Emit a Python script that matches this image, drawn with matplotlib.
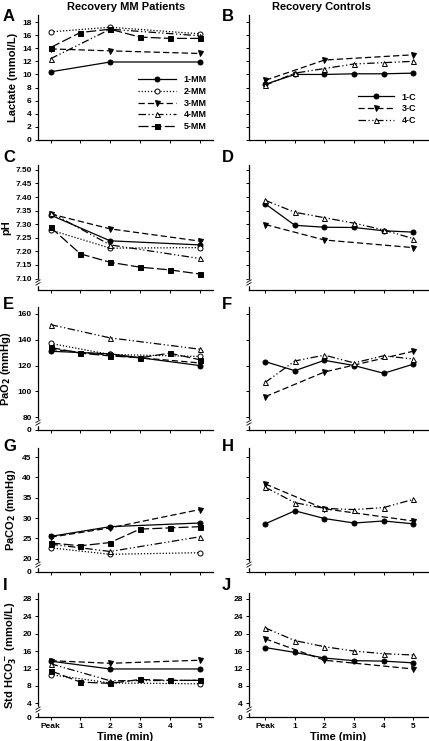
import numpy as np
import matplotlib
matplotlib.use("Agg")
import matplotlib.pyplot as plt

plt.rcParams['font.family'] = ['Liberation Sans', 'DejaVu Sans']
plt.rcParams['font.weight'] = 'bold'
plt.rcParams['axes.labelweight'] = 'bold'

# -----------------------------
# data
# -----------------------------
time_labels = ["Peak", "1", "2", "3", "4", "5"]
t_all = [0, 1, 2, 3, 4, 5]
t_sparse = [0, 2, 5]

# Lactate (mmol/L)
lac_1mm = [10.4, 11.9, 11.9]
lac_2mm = [16.5, 17.2, 16.2]
lac_3mm = [13.9, 13.6, 13.2]
lac_4mm = [12.4, 16.9, 15.9]
lac_5mm = [14.1, 16.4, 16.9, 15.7, 15.5, 15.5]
lac_1c = [8.5, 10.0, 10.0, 10.1, 10.1, 10.2]
lac_3c = [9.1, 12.2, 13.0]
lac_4c = [8.35, 10.2, 10.9, 11.6, 11.8, 12.0]

# pH
ph_1mm = [7.334, 7.239, 7.224]
ph_2mm = [7.279, 7.212, 7.214]
ph_3mm = [7.338, 7.283, 7.238]
ph_4mm = [7.343, 7.224, 7.174]
ph_5mm = [7.289, 7.191, 7.160, 7.142, 7.132, 7.117]
ph_1c = [7.375, 7.296, 7.289, 7.288, 7.276, 7.271]
ph_3c = [7.299, 7.242, 7.214]
ph_4c = [7.388, 7.344, 7.324, 7.304, 7.279, 7.247]

# PaO2 (mmHg)
pao2_1mm = [131, 129, 120]
pao2_2mm = [137, 128.5, 127]
pao2_3mm = [132.5, 128, 122]
pao2_4mm = [151.5, 141.3, 132.6]
pao2_5mm = [134, 129.5, 127.4, 126, 129.5, 124.5]
pao2_1c = [123, 116, 124, 120, 114, 121]
pao2_3c = [96, 115, 131]
pao2_4c = [107, 123.5, 128, 122, 127.5, 125]

# PaCO2 (mmHg)
paco2_1mm = [25.5, 27.9, 28.8]
paco2_2mm = [22.7, 21.1, 21.5]
paco2_3mm = [25.3, 27.6, 32.1]
paco2_4mm = [23.6, 21.8, 25.4]
paco2_5mm = [23.9, 23.2, 24.0, 27.3, 27.6, 27.9]
paco2_1c = [28.6, 31.8, 29.9, 28.8, 29.3, 28.6]
paco2_3c = [38.4, 32.3, 29.3]
paco2_4c = [37.6, 33.8, 32.4, 32.1, 32.6, 34.6]

# Std HCO3- (mmol/L)
hco3_1mm = [13.7, 11.9, 11.9]
hco3_2mm = [10.6, 8.7, 8.5]
hco3_3mm = [13.8, 13.2, 13.9]
hco3_4mm = [13.1, 9.2, 9.3]
hco3_5mm = [11.5, 8.9, 8.6, 9.5, 9.3, 9.3]
hco3_1c = [16.8, 15.7, 14.4, 13.8, 13.7, 13.3]
hco3_3c = [18.8, 13.9, 11.9]
hco3_4c = [21.3, 18.4, 17.0, 16.0, 15.4, 15.1]

# -----------------------------
# styles
# -----------------------------
STY = {
    "1": dict(ls="-", marker="o", mfc="black"),
    "2": dict(ls=(0, (1, 1.5)), marker="o", mfc="white"),
    "3": dict(ls=(0, (5, 2.5)), marker="v", mfc="black"),
    "4": dict(ls=(0, (6, 2, 1, 2, 1, 2)), marker="^", mfc="white"),
    "5": dict(ls=(0, (8, 2.5)), marker="s", mfc="black"),
}

W, H = 429, 741
fig = plt.figure(figsize=(W / 100, H / 100), dpi=100)


def px_axes(x0, x1, y0, y1):
    return fig.add_axes([x0 / W, 1 - y1 / H, (x1 - x0) / W, (y1 - y0) / H])


def draw_series(ax, x, y, key, label=None):
    s = STY[key]
    ax.plot(x, y, ls=s["ls"], color="black", lw=0.9, marker=s["marker"],
            ms=3.6, mfc=s["mfc"], mec="black", mew=0.7, label=label,
            clip_on=False)


def add_break(ax, yb):
    ax.plot([0, 0], [yb - 0.012, yb + 0.012], color="white", lw=2.5,
            transform=ax.transAxes, clip_on=False, zorder=5)
    for dy in (-0.011, 0.011):
        ax.plot([-0.012, 0.012], [yb + dy - 0.01, yb + dy + 0.01],
                color="black", lw=0.6, transform=ax.transAxes,
                clip_on=False, zorder=6)


def style_axes(ax, ylim, yticks, ylabels, xlim, show_x=False):
    ax.set_xlim(*xlim)
    ax.set_ylim(*ylim)
    for sp in ("top", "right"):
        ax.spines[sp].set_visible(False)
    for sp in ("left", "bottom"):
        ax.spines[sp].set_linewidth(0.9)
    ax.set_xticks(t_all)
    ax.set_yticks(yticks)
    ax.tick_params(direction="out", length=2.5, width=0.7, labelsize=6, pad=2)
    if ylabels is None:
        ax.set_yticklabels([])
    else:
        ax.set_yticklabels(ylabels)
    if show_x:
        ax.set_xticklabels(time_labels)
        ax.set_xlabel("Time (min)", fontsize=8, labelpad=1)
    else:
        ax.set_xticklabels([])


cols = [(38, 213), (249, 428)]
rows = [(15, 140), (165, 290), (307, 430), (448, 572), (593, 717)]
letter_tops = [9, 150, 297, 439, 578]
xlims = [(-0.42, 5.45), (-0.55, 5.5)]

panels = [
    ("lac", (0, 19.07), list(range(0, 19, 2)), [str(v) for v in range(0, 19, 2)],
     "Lactate (mmol/L)", None),
    ("ph", (7.058, 7.518), [7.10, 7.15, 7.20, 7.25, 7.30, 7.35, 7.40, 7.45, 7.50],
     ["7.10", "7.15", "7.20", "7.25", "7.30", "7.35", "7.40", "7.45", "7.50"],
     "pH", 0.06),
    ("pao2", (70.3, 165.1), [70.3, 80, 100, 120, 140, 160],
     ["0", "80", "100", "120", "140", "160"], "PaO$_2$ (mmHg)", 0.06),
    ("paco2", (16.75, 47.25), [16.75, 20, 25, 30, 35, 40, 45],
     ["0", "20", "25", "30", "35", "40", "45"], "PaCO$_2$ (mmHg)", 0.06),
    ("hco3", (0.9, 29.3), [0.9, 4, 8, 12, 16, 20, 24, 28],
     ["0", "4", "8", "12", "16", "20", "24", "28"], "Std HCO$_3^-$ (mmol/L)", 0.06),
]

mm_data = {
    "lac": [lac_1mm, lac_2mm, lac_3mm, lac_4mm, lac_5mm],
    "ph": [ph_1mm, ph_2mm, ph_3mm, ph_4mm, ph_5mm],
    "pao2": [pao2_1mm, pao2_2mm, pao2_3mm, pao2_4mm, pao2_5mm],
    "paco2": [paco2_1mm, paco2_2mm, paco2_3mm, paco2_4mm, paco2_5mm],
    "hco3": [hco3_1mm, hco3_2mm, hco3_3mm, hco3_4mm, hco3_5mm],
}
c_data = {
    "lac": [lac_1c, lac_3c, lac_4c],
    "ph": [ph_1c, ph_3c, ph_4c],
    "pao2": [pao2_1c, pao2_3c, pao2_4c],
    "paco2": [paco2_1c, paco2_3c, paco2_4c],
    "hco3": [hco3_1c, hco3_3c, hco3_4c],
}

letters = "ABCDEFGHIJ"
for r, (key, ylim, yticks, ylabels, ylabel, brk) in enumerate(panels):
    y0, y1 = rows[r]
    last = r == len(panels) - 1

    # patients
    ax = px_axes(cols[0][0], cols[0][1], y0, y1)
    for i, vals in enumerate(mm_data[key]):
        x = t_all if len(vals) == 6 else t_sparse
        draw_series(ax, x, vals, str(i + 1), label=f"{i + 1}-MM")
    style_axes(ax, ylim, yticks, ylabels, xlims[0], show_x=last)
    ax.set_ylabel(ylabel, fontsize=8, labelpad=3)
    if brk:
        add_break(ax, brk)
    fig.text(3 / W, 1 - letter_tops[r] / H, letters[2 * r], fontsize=12,
             fontweight="bold", va="top", ha="left")
    if r == 0:
        ax.legend(loc="lower right", bbox_to_anchor=(1.0, 0.02), frameon=False,
                  fontsize=6.5, handlelength=4.2, labelspacing=0.3,
                  handletextpad=0.8, borderpad=0.2)

    # controls
    ax = px_axes(cols[1][0], cols[1][1], y0, y1)
    for vals, k, lab in zip(c_data[key], ["1", "3", "4"], ["1-C", "3-C", "4-C"]):
        x = t_all if len(vals) == 6 else t_sparse
        draw_series(ax, x, vals, k, label=lab)
    style_axes(ax, ylim, yticks, ylabels if last else None, xlims[1], show_x=last)
    if brk:
        add_break(ax, brk)
    fig.text(222 / W, 1 - letter_tops[r] / H, letters[2 * r + 1], fontsize=12,
             fontweight="bold", va="top", ha="left")
    if r == 0:
        ax.legend(loc="lower right", bbox_to_anchor=(0.97, 0.07), frameon=False,
                  fontsize=6.5, handlelength=4.0, labelspacing=0.3,
                  handletextpad=0.8, borderpad=0.2)

fig.text(126 / W, 1 - 7 / H, "Recovery MM Patients", fontsize=8,
         fontweight="bold", ha="center", va="center")
fig.text(321 / W, 1 - 7 / H, "Recovery Controls", fontsize=8,
         fontweight="bold", ha="center", va="center")

fig.savefig("out.png", dpi=100)
